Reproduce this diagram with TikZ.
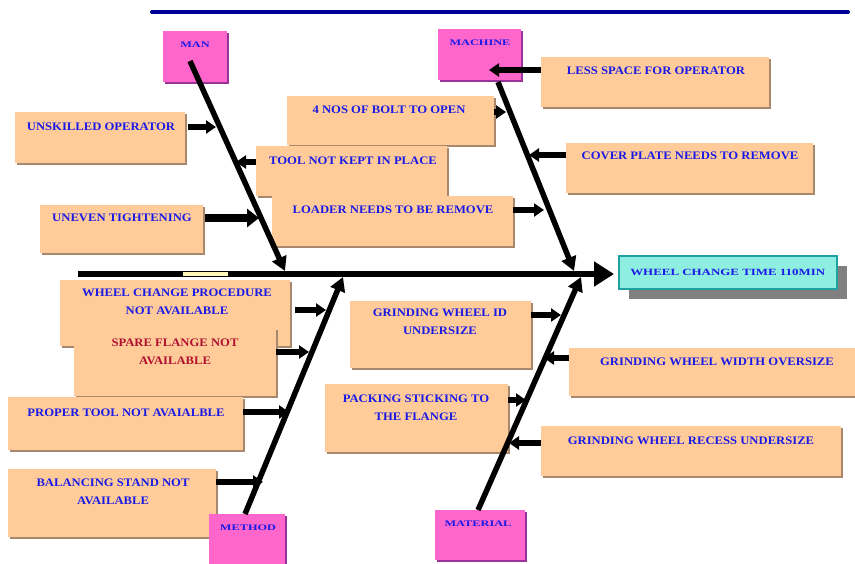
\documentclass[tikz,border=0pt]{standalone}
\usepackage{fontspec}
\setmainfont{Liberation Serif}
\newfontfamily\catfont[FakeStretch=1.45]{Liberation Serif}
\newfontfamily\causefont[FakeStretch=1.1]{Liberation Serif}
\newfontfamily\goalfont[FakeStretch=1.36]{Liberation Serif}
\usetikzlibrary{arrows.meta,shadows}
\definecolor{peach}{HTML}{FFCC99}
\definecolor{peachshadow}{HTML}{A8886C}
\definecolor{pinkfill}{HTML}{FF66CC}
\definecolor{pinkshadow}{HTML}{993399}
\definecolor{tblue}{HTML}{1A1AE6}
\definecolor{tred}{HTML}{B01030}
\definecolor{aqua}{HTML}{8EEEE0}
\definecolor{teal2}{HTML}{20A0A0}
\definecolor{navyline}{HTML}{000099}
\definecolor{lyellow}{HTML}{FFF6B8}
\begin{document}
\begin{tikzpicture}[x=1pt,y=-1pt,
  causebox/.style={rectangle,fill=peach,draw=none,inner sep=0pt,anchor=north west,
    drop shadow={shadow xshift=2pt,shadow yshift=-2pt,fill=peachshadow,opacity=1}},
  catbox/.style={rectangle,fill=pinkfill,draw=none,inner sep=0pt,anchor=north west,
    drop shadow={shadow xshift=2pt,shadow yshift=-2pt,fill=pinkshadow,opacity=1}},
  ctext/.style={inner sep=0pt,align=center,text=tblue,font=\causefont\bfseries\fontsize{11.5}{18}\selectfont},
  cattext/.style={inner sep=0pt,align=center,text=tblue,font=\catfont\bfseries\fontsize{8.5}{12}\selectfont},
  bone/.style={line width=5.5pt,-{Triangle[length=14pt,width=15pt]}},
  arr/.style={line width=5.5pt,-{Triangle[length=10pt,width=13pt]}},
  bigarr/.style={line width=8pt,-{Triangle[length=12pt,width=18pt]}}
]
\useasboundingbox (0,0) rectangle (855,563);
\fill[white] (0,0) rectangle (855,563);
% top line
\draw[navyline,line width=4pt,line cap=round] (152,12) -- (848,12);

% cause boxes
\node[causebox,minimum width=170pt,minimum height=51pt] (c1) at (15,112) {};
\node[causebox,minimum width=163pt,minimum height=48pt] (c2) at (40,205) {};
\node[causebox,minimum width=207pt,minimum height=49pt] (c3) at (287,96) {};
\node[causebox,minimum width=191pt,minimum height=50pt] (c4) at (256,146) {};
\node[causebox,minimum width=241pt,minimum height=50pt] (c5) at (272,196) {};
\node[causebox,minimum width=228pt,minimum height=50pt] (c6) at (541,57) {};
\node[causebox,minimum width=247pt,minimum height=50pt] (c7) at (566,143) {};
\node[causebox,minimum width=230pt,minimum height=66pt] (c8) at (60,280) {};
\node[causebox,minimum width=202pt,minimum height=68pt] (c9) at (74,328) {};
\node[causebox,minimum width=235pt,minimum height=53pt] (c10) at (8,397) {};
\node[causebox,minimum width=208pt,minimum height=68pt] (c11) at (8,469) {};
\node[causebox,minimum width=181pt,minimum height=67pt] (c12) at (350,301) {};
\node[causebox,minimum width=183pt,minimum height=68pt] (c13) at (325,384) {};
\node[causebox,minimum width=292pt,minimum height=48pt] (c14) at (569,348) {};
\node[causebox,minimum width=300pt,minimum height=50pt] (c15) at (541,426) {};

% cause texts
\node[ctext] (l1) at (101,127) {UNSKILLED OPERATOR};
\node[ctext] (l2) at (122,218) {UNEVEN TIGHTENING};
\node[ctext] (l3) at (389,110) {4 NOS OF BOLT TO OPEN};
\node[ctext] (l4) at (353,161) {TOOL NOT KEPT IN PLACE};
\node[ctext] (l5) at (393,210) {LOADER NEEDS TO BE REMOVE};
\node[ctext] (l6) at (656,71) {LESS SPACE FOR OPERATOR};
\node[ctext] (l7) at (690,156) {COVER PLATE NEEDS TO REMOVE};
\node[ctext] (l8) at (177,302) {WHEEL CHANGE PROCEDURE\\NOT AVAILABLE};
\node[ctext,text=tred] (l9) at (175,352) {SPARE FLANGE NOT\\AVAILABLE};
\node[ctext] (l10) at (126,413) {PROPER TOOL NOT AVAIALBLE};
\node[ctext] (l11) at (113,492) {BALANCING STAND NOT\\AVAILABLE};
\node[ctext] (l12) at (440,322) {GRINDING WHEEL ID\\UNDERSIZE};
\node[ctext] (l13) at (416,408) {PACKING STICKING TO\\THE FLANGE};
\node[ctext] (l14) at (717,362) {GRINDING WHEEL WIDTH OVERSIZE};
\node[ctext] (l15) at (691,441) {GRINDING WHEEL RECESS UNDERSIZE};

% category boxes
\node[catbox,minimum width=64pt,minimum height=51pt] (man) at (163,31) {};
\node[catbox,minimum width=83pt,minimum height=51pt] (machine) at (438,29) {};
\node[catbox,minimum width=76pt,minimum height=55pt] (method) at (209,514) {};
\node[catbox,minimum width=90pt,minimum height=50pt] (material) at (435,510) {};
\node[cattext] (lman) at (195,45) {MAN};
\node[cattext] (lmachine) at (480,43) {MACHINE};
\node[cattext] (lmethod) at (248,528) {METHOD};
\node[cattext] (lmaterial) at (478,524) {MATERIAL};

% goal box
\node[rectangle,anchor=north west,minimum width=218pt,minimum height=33pt,fill=aqua,draw=teal2,line width=1.5pt,
  drop shadow={shadow xshift=10pt,shadow yshift=-10pt,fill=gray,opacity=1}] (goal) at (618,255) {};
\node[inner sep=0pt,text=tblue,font=\goalfont\bfseries\fontsize{9.5}{12}\selectfont] (lgoal) at (goal.center) {WHEEL CHANGE TIME 110MIN};

% spine
\coordinate (spS) at (78,274);
\coordinate (spE) at (614,274);
\draw[line width=6pt,-{Triangle[length=20pt,width=24pt]}] (spS) -- (spE);
\fill[lyellow] (183,272) rectangle (228,276);

% bones
\coordinate (manS) at (190,61);
\coordinate (manE) at (285,271);
\coordinate (macS) at (498,82);
\coordinate (macE) at (574,271);
\coordinate (metS) at (245,514);
\coordinate (metE) at (343,277);
\coordinate (matS) at (478,510);
\coordinate (matE) at (581,277);
\draw[bone] (manS) -- (manE);
\draw[bone] (macS) -- (macE);
\draw[bone] (metS) -- (metE);
\draw[bone] (matS) -- (matE);

% cause arrows
\coordinate (t1) at (216,127);
\coordinate (t2) at (259,218);
\coordinate (t3) at (506,112);
\coordinate (t4) at (236,162);
\coordinate (t5) at (544,210);
\coordinate (t6) at (489,70);
\coordinate (t7) at (529,155);
\coordinate (t8) at (326,310);
\coordinate (t9) at (309,352);
\coordinate (t10) at (289,412);
\coordinate (t11) at (263,482);
\coordinate (t12) at (561,315);
\coordinate (t13) at (526,400);
\coordinate (t14) at (544,358);
\coordinate (t15) at (509,443);
\draw[arr] ([xshift=3pt]c1.east |- t1) -- (t1);
\draw[bigarr] ([xshift=2pt]c2.east |- t2) -- (t2);
\draw[arr] (c3.east |- t3) -- (t3);
\draw[arr] (c4.west |- t4) -- (t4);
\draw[arr] (c5.east |- t5) -- (t5);
\draw[arr] (c6.west |- t6) -- (t6);
\draw[arr] (c7.west |- t7) -- (t7);
\draw[arr] ([xshift=5pt]c8.east |- t8) -- (t8);
\draw[arr] (c9.east |- t9) -- (t9);
\draw[arr] (c10.east |- t10) -- (t10);
\draw[arr] (c11.east |- t11) -- (t11);
\draw[arr] (c12.east |- t12) -- (t12);
\draw[arr] (c13.east |- t13) -- (t13);
\draw[arr] (c14.west |- t14) -- (t14);
\draw[arr] (c15.west |- t15) -- (t15);
\end{tikzpicture}
\end{document}
